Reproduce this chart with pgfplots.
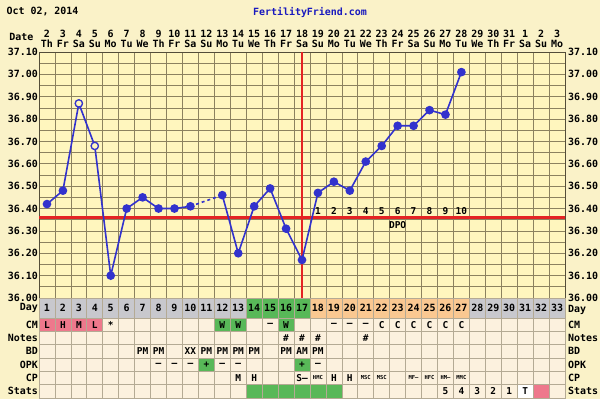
\documentclass[border=0pt]{standalone}
\usepackage{pgfplots}
\pgfplotsset{compat=1.18}
\usepackage{fontspec}
\setmainfont{DejaVu Sans Mono}
\definecolor{bgc}{RGB}{250,242,200}
\definecolor{plotc}{RGB}{255,246,190}
\definecolor{gridc}{RGB}{140,130,95}
\definecolor{cellc}{RGB}{252,241,222}
\definecolor{tgrid}{RGB}{180,170,148}
\definecolor{dayg}{RGB}{200,200,205}
\definecolor{grn}{RGB}{88,184,88}
\definecolor{org}{RGB}{250,200,145}
\definecolor{pnk}{RGB}{238,120,140}
\definecolor{lineb}{RGB}{50,50,205}
\definecolor{redl}{RGB}{228,35,35}
\definecolor{ttlb}{RGB}{25,25,190}
\newcommand\lfnt{\fontsize{10}{10.5}\selectfont\bfseries}
\newcommand\sfnt{\fontsize{9.5}{10}\selectfont\bfseries}
\newcommand\tfnt{\fontsize{5.5}{6}\selectfont\bfseries}
\pgfplotsset{
  lbl/.style={draw=none, nodes near coords, point meta=explicit symbolic,
    every node near coord/.append style={anchor=center, inner sep=0pt, font=#1}},
  lbl/.default=\sfnt,
  cell/.style={fill=#1, draw=none},
}
\begin{document}
\begin{tikzpicture}
\fill[bgc] (0bp,0bp) rectangle (600bp,399bp);
\node[anchor=west, font=\lfnt] at (3bp,387bp) {Oct 02, 2014};
\node[font=\lfnt, text=ttlb] at (310bp,387bp) {FertilityFriend.com};
\node[anchor=east, font=\lfnt] at (37bp,362bp) {Date};

% temperature chart
\begin{axis}[
  at={(39bp,101bp)}, anchor=south west, scale only axis,
  width=526bp, height=246bp,
  xmin=0.5, xmax=33.5, ymin=36, ymax=37.1,
  axis background/.style={fill=plotc},
  clip=false,
  xtick={1,...,33},
  xticklabels={{2\\Th},{3\\Fr},{4\\Sa},{5\\Su},{6\\Mo},{7\\Tu},{8\\We},{9\\Th},{10\\Fr},{11\\Sa},{12\\Su},{13\\Mo},{14\\Tu},{15\\We},{16\\Th},{17\\Fr},{18\\Sa},{19\\Su},{20\\Mo},{21\\Tu},{22\\We},{23\\Th},{24\\Fr},{25\\Sa},{26\\Su},{27\\Mo},{28\\Tu},{29\\We},{30\\Th},{31\\Fr},{1\\Sa},{2\\Su},{3\\Mo}},
  xticklabel pos=top,
  xticklabel style={align=center, font=\lfnt, inner sep=1bp, yshift=3bp},
  minor xtick={0.5,1.5,...,33.5},
  ytick={36.0,36.1,36.2,36.3,36.4,36.5,36.6,36.7,36.8,36.9,37.0,37.1},
  minor ytick={36.05,36.15,36.25,36.35,36.45,36.55,36.65,36.75,36.85,36.95,37.05},
  xmajorgrids=false, xminorgrids=true, ymajorgrids=true, yminorgrids=true,
  major grid style={gridc, line width=0.7bp},
  minor grid style={gridc, line width=0.7bp},
  tick style={draw=none},
  axis line style={gridc!60!black, line width=0.8bp},
  yticklabel style={font=\lfnt, inner sep=1bp, /pgf/number format/.cd, fixed, fixed zerofill, precision=2, assume math mode=true},
]
\addplot[redl, line width=2.5bp] coordinates {(0.5,36.36) (33.5,36.36)};
\addplot[redl, line width=2.5bp] coordinates {(17,36.0) (17,37.1)};
\addplot[lineb, line width=1.6bp, dashed] coordinates {(10,36.41) (12,36.46)};
\addplot[lineb, line width=1.6bp, mark=*, mark size=3.5bp, mark options={fill=lineb, solid}] coordinates {
 (1,36.42) (2,36.48) (3,36.87) (4,36.68) (5,36.10) (6,36.40) (7,36.45) (8,36.40) (9,36.40) (10,36.41)};
\addplot[lineb, line width=1.6bp, mark=*, mark size=3.5bp, mark options={fill=lineb, solid}] coordinates {
 (12,36.46) (13,36.20) (14,36.41) (15,36.49) (16,36.31) (17,36.17) (18,36.47) (19,36.52) (20,36.48)
 (21,36.61) (22,36.68) (23,36.77) (24,36.77) (25,36.84) (26,36.82) (27,37.01)};
\addplot[only marks, mark=*, mark size=3.5bp, mark options={draw=lineb, fill=plotc, line width=1bp}] coordinates {(3,36.87) (4,36.68)};
\addplot[lbl] coordinates {(18,36.39)[1] (19,36.39)[2] (20,36.39)[3] (21,36.39)[4] (22,36.39)[5] (23,36.39)[6] (24,36.39)[7] (25,36.39)[8] (26,36.39)[9] (27,36.39)[10]};
\addplot[lbl] coordinates {(23,36.327)[DPO]};
\end{axis}

% right-hand temperature labels
\begin{axis}[
  at={(39bp,101bp)}, anchor=south west, scale only axis,
  width=526bp, height=246bp,
  xmin=0.5, xmax=33.5, ymin=36, ymax=37.1,
  axis x line=none, axis y line*=right,
  y axis line style={draw=none}, tick style={draw=none},
  ytick={36.0,36.1,36.2,36.3,36.4,36.5,36.6,36.7,36.8,36.9,37.0,37.1},
  yticklabel style={font=\lfnt, inner sep=1bp, xshift=2bp, /pgf/number format/.cd, fixed, fixed zerofill, precision=2, assume math mode=true},
]
\end{axis}

% table
\begin{axis}[
  at={(39bp,1bp)}, anchor=south west, scale only axis,
  width=526bp, height=100bp,
  xmin=0.5, xmax=33.5, ymin=0, ymax=100,
  axis background/.style={fill=cellc},
  axis on top, clip=false,
  xtick={1,...,33}, xticklabels={},
  minor xtick={0.5,1.5,...,33.5},
  ytick={6.667,20,33.333,46.667,60,73.333,90},
  yticklabels={Stats,CP,OPK,BD,Notes,CM,Day},
  minor ytick={13.333,26.667,40,53.333,66.667,80},
  xmajorgrids=false, ymajorgrids=false, xminorgrids=true, yminorgrids=true,
  minor grid style={tgrid, line width=0.7bp},
  tick style={draw=none},
  axis line style={tgrid, line width=0.8bp},
  yticklabel style={font=\lfnt, inner sep=1bp},
]
% day row colours
\addplot[cell=dayg] coordinates {(0.5,80) (13.5,80) (13.5,100) (0.5,100)} --cycle;
\addplot[cell=grn] coordinates {(13.5,80) (17.5,80) (17.5,100) (13.5,100)} --cycle;
\addplot[cell=org] coordinates {(17.5,80) (27.5,80) (27.5,100) (17.5,100)} --cycle;
\addplot[cell=dayg] coordinates {(27.5,80) (33.5,80) (33.5,100) (27.5,100)} --cycle;
% CM
\addplot[cell=pnk] coordinates {(0.5,66.667) (4.5,66.667) (4.5,80) (0.5,80)} --cycle;
\addplot[cell=grn] coordinates {(11.5,66.667) (13.5,66.667) (13.5,80) (11.5,80)} --cycle;
\addplot[cell=grn] coordinates {(15.5,66.667) (16.5,66.667) (16.5,80) (15.5,80)} --cycle;
% OPK
\addplot[cell=grn] coordinates {(10.5,26.667) (11.5,26.667) (11.5,40) (10.5,40)} --cycle;
\addplot[cell=grn] coordinates {(16.5,26.667) (17.5,26.667) (17.5,40) (16.5,40)} --cycle;
% Stats
\addplot[cell=grn] coordinates {(13.5,0) (19.5,0) (19.5,13.333) (13.5,13.333)} --cycle;
\addplot[cell=white] coordinates {(30.5,0) (31.5,0) (31.5,13.333) (30.5,13.333)} --cycle;
\addplot[cell=pnk] coordinates {(31.5,0) (32.5,0) (32.5,13.333) (31.5,13.333)} --cycle;
% texts
\addplot[lbl=\lfnt] coordinates {(1,90)[1] (2,90)[2] (3,90)[3] (4,90)[4] (5,90)[5] (6,90)[6] (7,90)[7] (8,90)[8] (9,90)[9] (10,90)[10] (11,90)[11] (12,90)[12] (13,90)[13] (14,90)[14] (15,90)[15] (16,90)[16] (17,90)[17] (18,90)[18] (19,90)[19] (20,90)[20] (21,90)[21] (22,90)[22] (23,90)[23] (24,90)[24] (25,90)[25] (26,90)[26] (27,90)[27] (28,90)[28] (29,90)[29] (30,90)[30] (31,90)[31] (32,90)[32] (33,90)[33]};
\addplot[lbl] coordinates {(1,73.333)[L] (2,73.333)[H] (3,73.333)[M] (4,73.333)[L] (5,73.333)[*] (12,73.333)[W] (13,73.333)[W] (15,73.333)[–] (16,73.333)[W] (19,73.333)[–] (20,73.333)[–] (21,73.333)[–] (22,73.333)[C] (23,73.333)[C] (24,73.333)[C] (25,73.333)[C] (26,73.333)[C] (27,73.333)[C]};
\addplot[lbl] coordinates {(16,60)[\#] (17,60)[\#] (18,60)[\#] (21,60)[\#]};
\addplot[lbl] coordinates {(7,46.667)[PM] (8,46.667)[PM] (10,46.667)[XX] (11,46.667)[PM] (12,46.667)[PM] (13,46.667)[PM] (14,46.667)[PM] (16,46.667)[PM] (17,46.667)[AM] (18,46.667)[PM]};
\addplot[lbl] coordinates {(8,33.333)[–] (9,33.333)[–] (10,33.333)[–] (11,33.333)[+] (12,33.333)[–] (13,33.333)[–] (17,33.333)[+] (18,33.333)[–]};
\addplot[lbl] coordinates {(13,20)[M] (14,20)[H] (17,20)[S–] (19,20)[H] (20,20)[H]};
\addplot[lbl=\tfnt] coordinates {(18,20)[HMC] (21,20)[MSC] (22,20)[MSC] (24,20)[MF–] (25,20)[HFC] (26,20)[HM–] (27,20)[MMC]};
\addplot[lbl] coordinates {(26,6.667)[5] (27,6.667)[4] (28,6.667)[3] (29,6.667)[2] (30,6.667)[1] (31,6.667)[T]};
% right-hand row labels
\node[anchor=west, font=\lfnt, inner sep=1bp, xshift=2bp] at (axis cs:33.5,6.667) {Stats};
\node[anchor=west, font=\lfnt, inner sep=1bp, xshift=2bp] at (axis cs:33.5,20) {CP};
\node[anchor=west, font=\lfnt, inner sep=1bp, xshift=2bp] at (axis cs:33.5,33.333) {OPK};
\node[anchor=west, font=\lfnt, inner sep=1bp, xshift=2bp] at (axis cs:33.5,46.667) {BD};
\node[anchor=west, font=\lfnt, inner sep=1bp, xshift=2bp] at (axis cs:33.5,60) {Notes};
\node[anchor=west, font=\lfnt, inner sep=1bp, xshift=2bp] at (axis cs:33.5,73.333) {CM};
\node[anchor=west, font=\lfnt, inner sep=1bp, xshift=2bp] at (axis cs:33.5,88) {Day};
\end{axis}
\pgfresetboundingbox
\path (0bp,0bp) rectangle (600bp,399bp);
\end{tikzpicture}
\end{document}
